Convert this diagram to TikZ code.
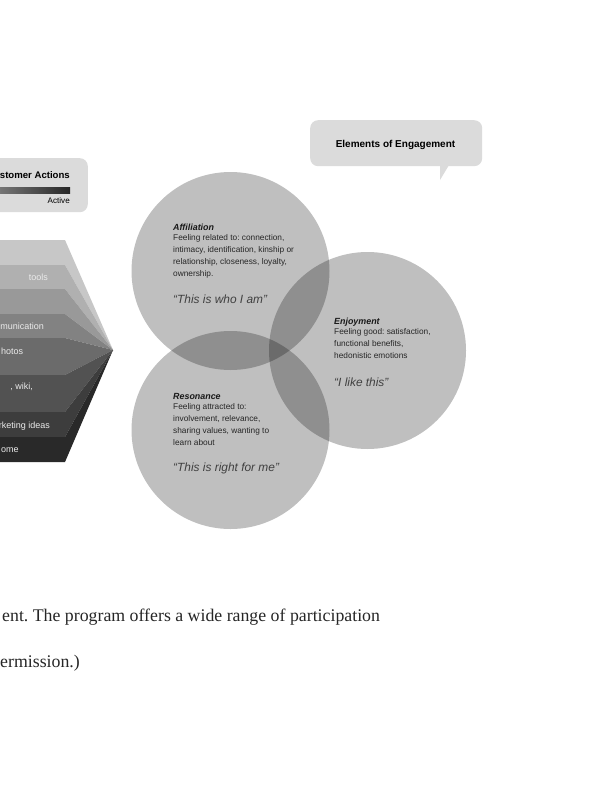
\documentclass[tikz,border=0pt]{standalone}
\usepackage{fontspec}
\setmainfont{Liberation Serif}
\setsansfont{Liberation Sans}
\newfontfamily\diag{Liberation Sans}
\frenchspacing
\begin{document}
\begin{tikzpicture}[x=1pt,y=-1pt,
  bubble/.style={fill=black!14,rounded corners=8pt,draw=none},
  circ/.style={fill=black,fill opacity=0.25,draw=none},
  bandtxt/.style={anchor=base east,font=\diag\fontsize{9}{10}\selectfont,text=white!92!black,inner sep=0pt},
  head/.style={anchor=base west,font=\diag\bfseries\itshape\fontsize{8.9}{10}\selectfont,text=black!90,inner sep=0pt},
  body/.style={anchor=north west,align=left,font=\diag\fontsize{8.3}{11.9}\selectfont,text=black!85,inner sep=0pt},
  quote/.style={anchor=base west,font=\diag\itshape\fontsize{11.9}{14}\selectfont,text=black!75,inner sep=0pt},
  capt/.style={anchor=base west,font=\fontsize{17.8}{20}\selectfont,text=black!85,inner sep=0pt}]
\useasboundingbox (0,0) rectangle (602,800);
\clip (0,0) rectangle (602,800);
\fill[white] (0,0) rectangle (602,800);

% Customer Actions box
\node[bubble,minimum width=100pt,minimum height=54pt,anchor=north east] (cabox) at (88,158) {};
\node[anchor=base east,font=\diag\bfseries\fontsize{9.6}{11}\selectfont,inner sep=0pt] (catitle) at (70,178) {stomer Actions};
\shade[left color=black!45,right color=black!85] (-20,187) rectangle (70,193);
\node[anchor=base east,font=\diag\fontsize{8.1}{9}\selectfont,inner sep=0pt] (active) at (70,203) {Active};

% bands
\coordinate (apex) at (113,350);
\fill[black!22] (-5,240) -- (65,240) -- (apex) -- (65,265) -- (-5,265) -- cycle;
\fill[black!31] (-5,265) -- (65,265) -- (apex) -- (65,289) -- (-5,289) -- cycle;
\fill[black!40] (-5,289) -- (65,289) -- (apex) -- (65,314) -- (-5,314) -- cycle;
\fill[black!49] (-5,314) -- (65,314) -- (apex) -- (65,338) -- (-5,338) -- cycle;
\fill[black!58] (-5,338) -- (65,338) -- (apex) -- (65,375) -- (-5,375) -- cycle;
\fill[black!68] (-5,375) -- (65,375) -- (apex) -- (65,412) -- (-5,412) -- cycle;
\fill[black!76] (-5,412) -- (65,412) -- (apex) -- (65,437) -- (-5,437) -- cycle;
\fill[black!84] (-5,437) -- (65,437) -- (apex) -- (65,462) -- (-5,462) -- cycle;
\node[bandtxt] (b2) at (48,280.5) {tools};
\node[bandtxt] (b4) at (44,329.5) {munication};
\node[bandtxt,anchor=base west] (b5) at (1,354.5) {hotos};
\node[bandtxt] (b6) at (33,389.5) {, wiki,};
\node[bandtxt] (b7) at (50,428.5) {rketing ideas};
\node[bandtxt,anchor=base west] (b8) at (1,452.5) {ome};

% Elements of Engagement bubble
\fill[black!14] (440,160) -- (440,180) -- (452,160) -- cycle;
\node[bubble,minimum width=172pt,minimum height=46pt,anchor=north west] (eebox) at (310,120) {};
\node[font=\diag\bfseries\fontsize{10}{12}\selectfont,inner sep=0pt] (eetitle) at (395.5,145) {Elements of Engagement};

% circles
\fill[circ] (230.5,271) circle (99);
\fill[circ] (367.5,350.5) circle (98.5);
\fill[circ] (230.5,430) circle (99);

% Affiliation
\node[head] (afh) at (173,230.5) {Affiliation};
\node[body] (afb) at (173,234.5) {Feeling related to: connection,\\intimacy, identification, kinship or\\relationship, closeness, loyalty,\\ownership.};
\node[quote] (afq) at (173,303) {“This is who I am”};

% Enjoyment
\node[head] (enh) at (334,324.5) {Enjoyment};
\node[body] (enb) at (334,328.5) {Feeling good: satisfaction,\\functional benefits,\\hedonistic emotions};
\node[quote] (enq) at (334,386.5) {“I like this”};

% Resonance
\node[head] (reh) at (173,399.5) {Resonance};
\node[body] (reb) at (173,403.5) {Feeling attracted to:\\involvement, relevance,\\sharing values, wanting to\\learn about};
\node[quote] (req) at (173,471.5) {“This is right for me”};

% caption text
\node[capt] (c1) at (2,621.5) {ent. The program offers a wide range of participation};
\node[capt] (c2) at (0,667.5) {ermission.)};
\end{tikzpicture}
\end{document}
